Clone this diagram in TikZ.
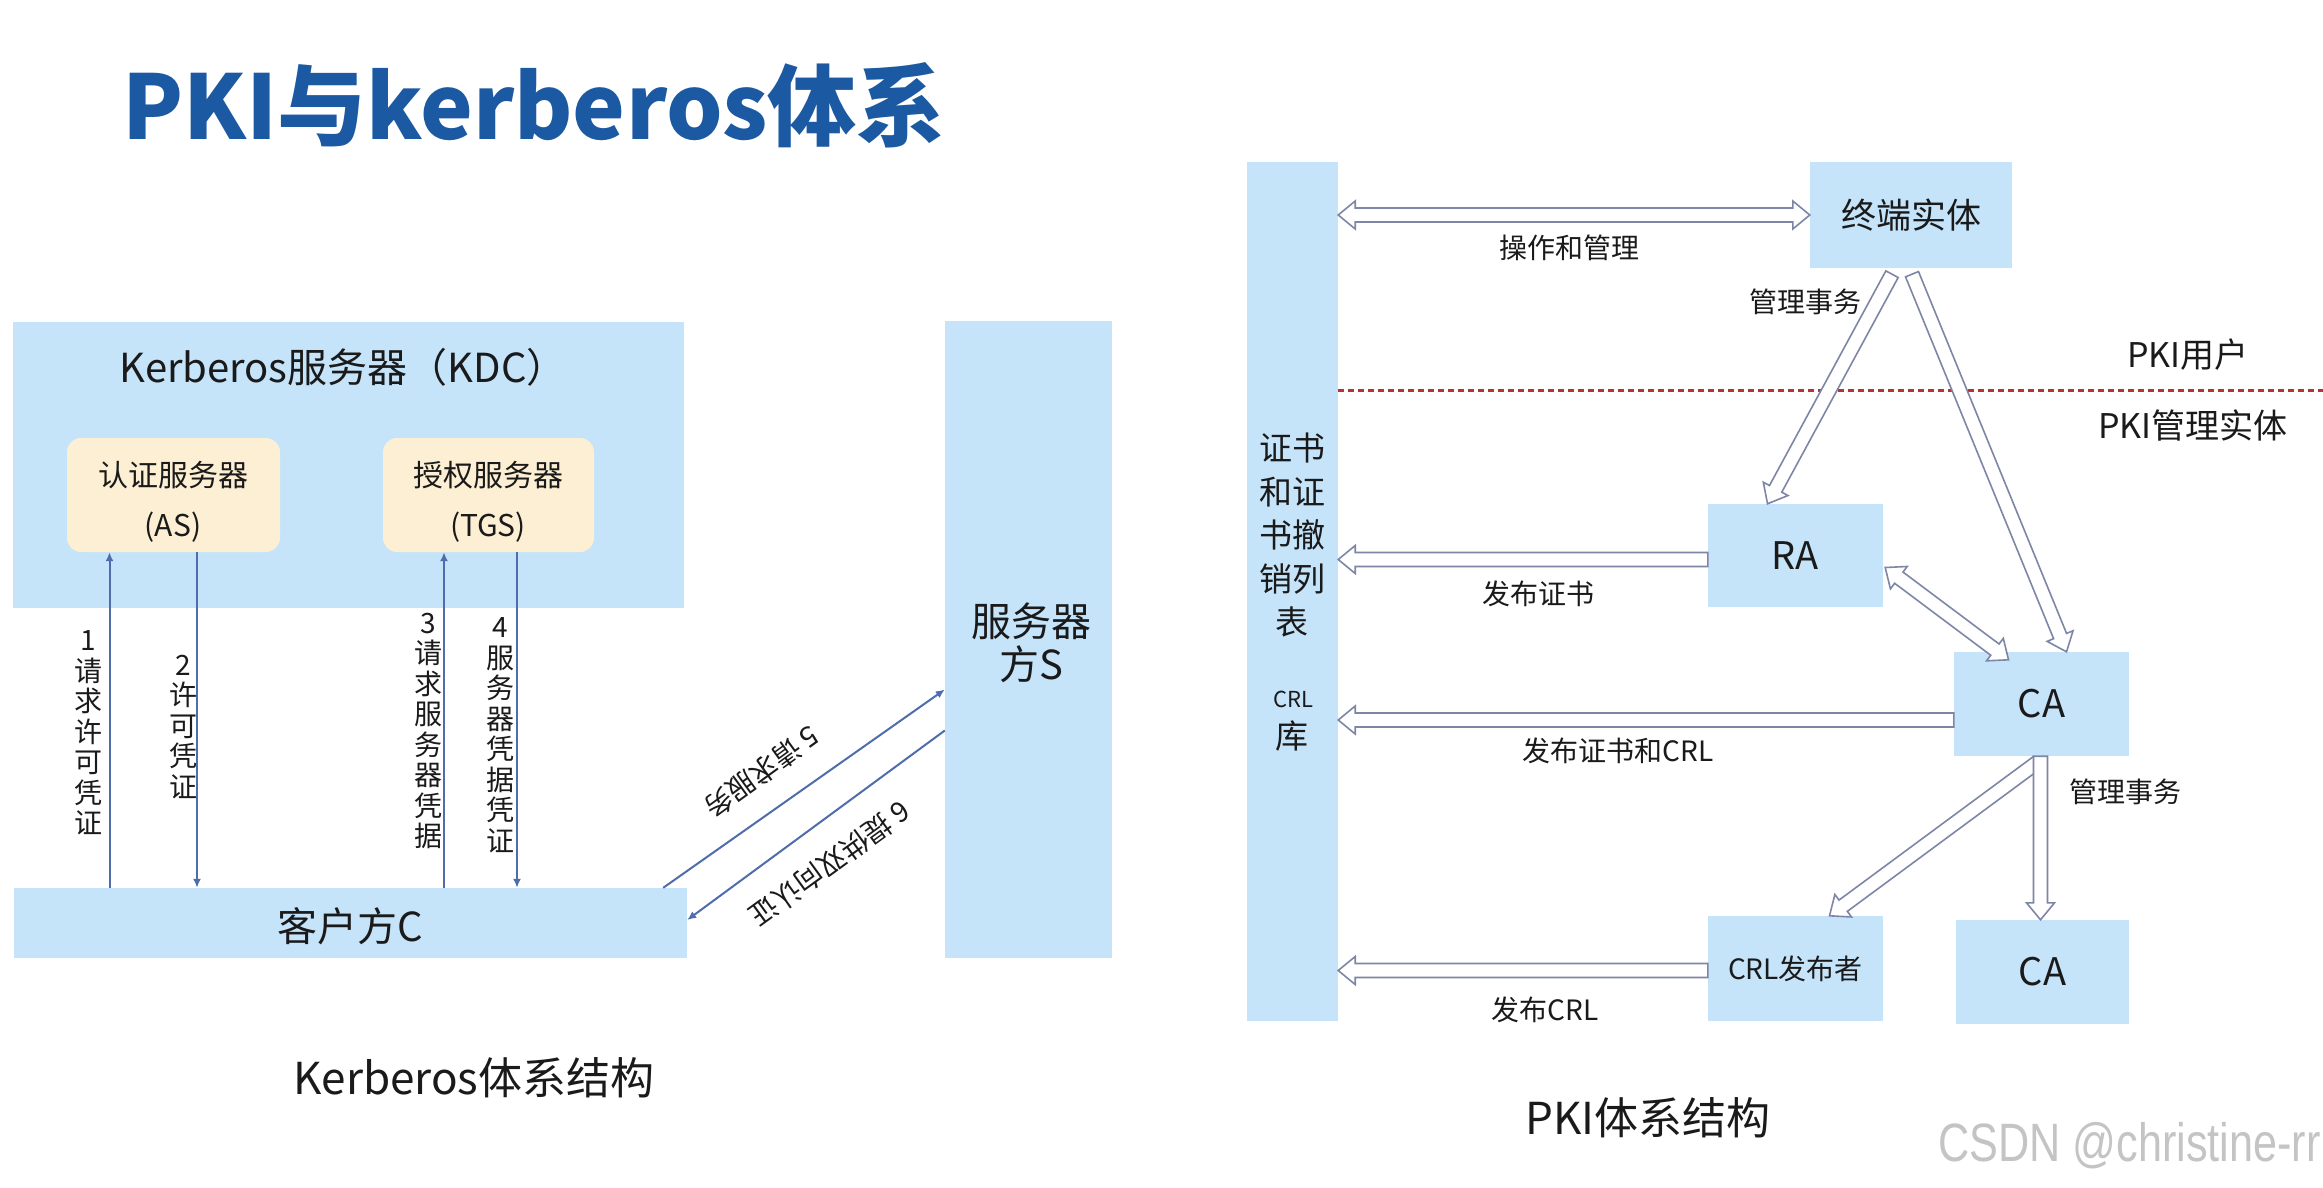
\documentclass[tikz,border=0pt]{standalone}
\usepackage{fontspec}
\setmainfont{Noto Sans CJK SC}
\newfontfamily\wmfont{Liberation Sans}[FakeStretch=0.8]
\usetikzlibrary{arrows.meta,calc}
\definecolor{lblue}{HTML}{C5E4FA}
\definecolor{cream}{HTML}{FCEFD4}
\definecolor{thinc}{HTML}{4F6CAC}
\definecolor{hollowc}{HTML}{7E86A6}
\definecolor{titleblue}{HTML}{1B59A2}
\definecolor{dashred}{HTML}{B83232}
\definecolor{txt}{HTML}{1A1A1A}
\definecolor{wmgray}{HTML}{C4C4C4}
\newcommand{\fsz}[2]{\fontsize{#1}{#2}\selectfont}
% hollow single-headed arrow from #1 (tail) to #2 (tip)
\newcommand{\harrow}[2]{%
  \filldraw[hollow] ($(#1)!7pt!90:(#2)$) -- ($(#2)!17pt!(#1)!7pt!-90:(#1)$) -- ($(#2)!17pt!(#1)!14pt!-90:(#1)$) -- (#2) -- ($(#2)!17pt!(#1)!14pt!90:(#1)$) -- ($(#2)!17pt!(#1)!7pt!90:(#1)$) -- ($(#1)!7pt!-90:(#2)$) -- cycle;}
% hollow double-headed arrow between #1 and #2
\newcommand{\hdarrow}[2]{%
  \filldraw[hollow] (#1) -- ($(#1)!17pt!(#2)!14pt!90:(#2)$) -- ($(#1)!17pt!(#2)!7pt!90:(#2)$) -- ($(#2)!17pt!(#1)!7pt!-90:(#1)$) -- ($(#2)!17pt!(#1)!14pt!-90:(#1)$) -- (#2) -- ($(#2)!17pt!(#1)!14pt!90:(#1)$) -- ($(#2)!17pt!(#1)!7pt!90:(#1)$) -- ($(#1)!17pt!(#2)!7pt!-90:(#2)$) -- ($(#1)!17pt!(#2)!14pt!-90:(#2)$) -- cycle;}
\begin{document}
\begin{tikzpicture}[x=1pt,y=-1pt,
  bbox/.style={fill=lblue, draw=none, inner sep=0pt},
  ybox/.style={fill=cream, draw=none, rounded corners=14pt, inner sep=0pt},
  lbl/.style={text=txt, inner sep=0pt},
  vlbl/.style={text=txt, inner sep=0pt, align=center, font=\fsz{28}{30.5}},
  thin/.style={draw=thinc, line width=2pt, -{Latex[length=9pt,width=8pt]}},
  hollow/.style={fill=white, draw=hollowc, line width=1.6pt, line join=miter},
  reddash/.style={draw=dashred, line width=3pt, dash pattern=on 6pt off 4pt}]
\fill[white] (0,0) rectangle (2323,1188);
\useasboundingbox (0,0) rectangle (2323,1188);

% title
\node[lbl, text=titleblue, font=\bfseries\fsz{89}{93}] (title) at (534,105) {PKI与kerberos体系};

% ---------------- Kerberos -----------------
\node[bbox, minimum width=671, minimum height=286] (kdc) at (348.5,465) {};
\node[lbl, font=\fsz{40}{42}] (kdct) at (343,367) {Kerberos服务器（KDC）};
\node[ybox, minimum width=213, minimum height=114] (as) at (173.5,495) {};
\node[lbl, font=\fsz{30}{32}, align=center] (ast) at (173,502) {认证服务器\\[18pt](AS)};
\node[ybox, minimum width=211, minimum height=114] (tgs) at (488.5,495) {};
\node[lbl, font=\fsz{30}{32}, align=center] (tgst) at (488,502) {授权服务器\\[18pt](TGS)};
\node[bbox, minimum width=673, minimum height=70] (client) at (350.5,923) {};
\node[lbl, font=\fsz{40}{42}] (clientt) at (350,926) {客户方C};
\node[bbox, minimum width=167, minimum height=637] (srv) at (1028.5,639.5) {};
\node[lbl, font=\fsz{40}{43}, align=center] (srvt) at (1031,643) {服务器\\方S};

\coordinate (p1) at ($(as.south)+(-64,0)$);
\coordinate (p2) at ($(as.south)+(23.5,0)$);
\coordinate (p3) at ($(tgs.south)+(-44.5,0)$);
\coordinate (p4) at ($(tgs.south)+(28.5,0)$);
\draw[thin] (p1 |- client.north) -- (p1);
\draw[thin] (p2) -- (p2 |- client.north);
\draw[thin] (p3 |- client.north) -- (p3);
\draw[thin] (p4) -- (p4 |- client.north);

\node[vlbl] (l1) at (88,733) {1\\请\\求\\许\\可\\凭\\证};
\node[vlbl] (l2) at (183,727) {2\\许\\可\\凭\\证};
\node[vlbl] (l3) at (428,731) {3\\请\\求\\服\\务\\器\\凭\\据};
\node[vlbl] (l4) at (500,735) {4\\服\\务\\器\\凭\\据\\凭\\证};

\coordinate (c5) at ($(client.north east)+(-24,0)$);
\coordinate (s5) at ($(srv.west)+(0,50)$);
\coordinate (s6) at ($(srv.west)+(0,91)$);
\coordinate (c6) at ($(client.east)+(0,-3)$);
\draw[thin] (c5) -- (s5);
\draw[thin] (s6) -- (c6);
\node[lbl, font=\fsz{28}{30}, rotate=216] (l5) at (762,772) {5 请求服务};
\node[lbl, font=\fsz{28}{30}, rotate=216] (l6) at (830,864) {6 提供双向认证};

\node[lbl, font=\fsz{44}{46}] (cap1) at (474,1078) {Kerberos体系结构};

% ---------------- PKI -----------------
\node[bbox, minimum width=91, minimum height=859] (repo) at (1292.5,591.5) {};
\node[lbl, font=\fsz{33}{43.5}, align=center] (repot) at (1292,535) {证书\\和证\\书撤\\销列\\表};
\node[lbl, font=\fsz{22}{24}] (crlt) at (1293,699) {CRL};
\node[lbl, font=\fsz{33}{35}] (kut) at (1292,736) {库};

\node[bbox, minimum width=202, minimum height=106] (ee) at (1911,215) {};
\node[lbl, font=\fsz{35}{37}] at (ee) {终端实体};
\node[bbox, minimum width=175, minimum height=103] (ra) at (1795.5,555.5) {};
\node[lbl, font=\fsz{38}{40}] at (ra) {RA};
\node[bbox, minimum width=175, minimum height=104] (ca) at (2041.5,704) {};
\node[lbl, font=\fsz{38}{40}] at (ca) {CA};
\node[bbox, minimum width=175, minimum height=105] (crl) at (1795.5,968.5) {};
\node[lbl, font=\fsz{28}{30}] at (crl) {CRL发布者};
\node[bbox, minimum width=173, minimum height=104] (ca2) at (2042.5,972) {};
\node[lbl, font=\fsz{38}{40}] at (ca2) {CA};

% dashed separator
\coordinate (dashL) at (repo.east |- 0,390);
\coordinate (dashR) at (2323,390);
\draw[reddash] (dashL) -- (dashR);

% hollow arrows
\coordinate (eeW) at (ee.west);
\coordinate (repoEE) at (repo.east |- ee.west);
\hdarrow{repoEE}{eeW}
\coordinate (raW) at ($(ra.west)+(0,4)$);
\coordinate (repoRA) at (repo.east |- raW);
\harrow{raW}{repoRA}
\coordinate (caW) at ($(ca.west)+(0,16)$);
\coordinate (repoCA) at (repo.east |- caW);
\harrow{caW}{repoCA}
\coordinate (crlW) at ($(crl.west)+(0,2)$);
\coordinate (repoCRL) at (repo.east |- crlW);
\harrow{crlW}{repoCRL}
\coordinate (eeS1) at ($(ee.south)+(-19,6)$);
\coordinate (raN) at ($(ra.north)+(-28,0)$);
\harrow{eeS1}{raN}
\coordinate (eeS2) at ($(ee.south)+(1,6)$);
\coordinate (caN) at ($(ca.north)+(25,0)$);
\harrow{eeS2}{caN}
\coordinate (raE) at ($(ra.east)+(2,12)$);
\coordinate (caNW) at ($(ca.north)+(-33,8)$);
\hdarrow{raE}{caNW}
\coordinate (caS1) at ($(ca.south)+(-4,6)$);
\coordinate (crlN) at ($(crl.north)+(34,0)$);
\harrow{caS1}{crlN}
\coordinate (caS2) at ($(ca.south)+(-1,0)$);
\coordinate (ca2N) at ($(ca2.north)+(-2,0)$);
\harrow{caS2}{ca2N}

% labels
\node[lbl, font=\fsz{28}{30}] (lop) at (1569,248) {操作和管理};
\node[lbl, font=\fsz{28}{30}] (lm1) at (1805,302) {管理事务};
\node[lbl, font=\fsz{34}{36}] (lu) at (2188,355) {PKI用户};
\node[lbl, font=\fsz{34}{36}] (lme) at (2193,425) {PKI管理实体};
\node[lbl, font=\fsz{28}{30}] (lpc) at (1538,594) {发布证书};
\node[lbl, font=\fsz{28}{30}] (lpcc) at (1618,751) {发布证书和CRL};
\node[lbl, font=\fsz{28}{30}] (lm2) at (2125,792) {管理事务};
\node[lbl, font=\fsz{28}{30}] (lpcrl) at (1545,1010) {发布CRL};

\node[lbl, font=\fsz{44}{46}] (cap2) at (1648,1118) {PKI体系结构};

\node[lbl, text=wmgray, anchor=west, font=\wmfont\fsz{54}{56}] (wm) at (1938,1146) {CSDN @christine-rr};
\end{tikzpicture}
\end{document}
